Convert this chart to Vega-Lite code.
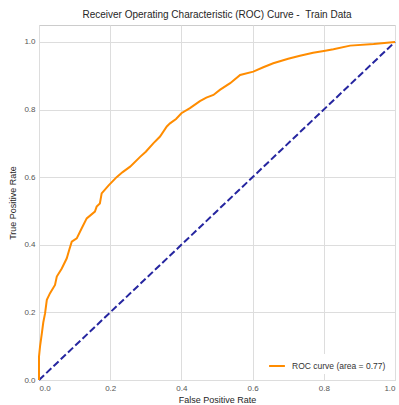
{
  "$schema": "https://vega.github.io/schema/vega-lite/v6.json",
  "width": 356,
  "height": 355,
  "autosize": {"type": "none"},
  "padding": {"left": 39, "top": 25, "right": 4, "bottom": 25},
  "background": "white",
  "title": {
    "text": "Receiver Operating Characteristic (ROC) Curve - \u00a0Train Data",
    "font": "Liberation Sans",
    "fontSize": 10,
    "fontWeight": "normal",
    "color": "#262626",
    "offset": 5
  },
  "config": {
    "view": {"stroke": "#cccccc", "strokeWidth": 1},
    "axis": {
      "labelFont": "Liberation Sans",
      "titleFont": "Liberation Sans",
      "labelFontSize": 8,
      "titleFontSize": 9,
      "labelColor": "#555555",
      "titleColor": "#262626",
      "titleFontWeight": "normal",
      "grid": true,
      "gridColor": "#dddddd",
      "gridWidth": 1,
      "domain": false,
      "ticks": false
    },
    "legend": {
      "labelFont": "Liberation Sans",
      "labelFontSize": 8.5,
      "labelColor": "#333333"
    }
  },
  "layer": [
    {
      "data": {"values": [{"fpr": 0, "tpr": 0}, {"fpr": 1, "tpr": 1}]},
      "mark": {"type": "line", "color": "#2626a0", "strokeWidth": 2, "strokeDash": [7, 3]},
      "encoding": {
        "x": {"field": "fpr", "type": "quantitative"},
        "y": {"field": "tpr", "type": "quantitative"}
      }
    },
    {
      "data": {"values": [
        {"fpr": 0, "tpr": 0},
        {"fpr": 0, "tpr": 0.069},
        {"fpr": 0.003, "tpr": 0.10},
        {"fpr": 0.008, "tpr": 0.138},
        {"fpr": 0.012, "tpr": 0.17},
        {"fpr": 0.017, "tpr": 0.197},
        {"fpr": 0.022, "tpr": 0.237},
        {"fpr": 0.031, "tpr": 0.257},
        {"fpr": 0.045, "tpr": 0.281},
        {"fpr": 0.05, "tpr": 0.306},
        {"fpr": 0.064, "tpr": 0.33},
        {"fpr": 0.078, "tpr": 0.36},
        {"fpr": 0.085, "tpr": 0.385},
        {"fpr": 0.092, "tpr": 0.409},
        {"fpr": 0.106, "tpr": 0.419},
        {"fpr": 0.12, "tpr": 0.449},
        {"fpr": 0.134, "tpr": 0.478},
        {"fpr": 0.157, "tpr": 0.498},
        {"fpr": 0.162, "tpr": 0.513},
        {"fpr": 0.171, "tpr": 0.522},
        {"fpr": 0.176, "tpr": 0.552},
        {"fpr": 0.195, "tpr": 0.575},
        {"fpr": 0.218, "tpr": 0.60},
        {"fpr": 0.235, "tpr": 0.615},
        {"fpr": 0.256, "tpr": 0.631},
        {"fpr": 0.284, "tpr": 0.66},
        {"fpr": 0.30, "tpr": 0.675},
        {"fpr": 0.321, "tpr": 0.70},
        {"fpr": 0.34, "tpr": 0.72},
        {"fpr": 0.359, "tpr": 0.75},
        {"fpr": 0.368, "tpr": 0.759},
        {"fpr": 0.385, "tpr": 0.772},
        {"fpr": 0.40, "tpr": 0.789},
        {"fpr": 0.424, "tpr": 0.804},
        {"fpr": 0.452, "tpr": 0.825},
        {"fpr": 0.47, "tpr": 0.835},
        {"fpr": 0.49, "tpr": 0.843},
        {"fpr": 0.508, "tpr": 0.858},
        {"fpr": 0.537, "tpr": 0.878},
        {"fpr": 0.565, "tpr": 0.902},
        {"fpr": 0.602, "tpr": 0.912},
        {"fpr": 0.63, "tpr": 0.925},
        {"fpr": 0.658, "tpr": 0.937},
        {"fpr": 0.70, "tpr": 0.95},
        {"fpr": 0.733, "tpr": 0.959},
        {"fpr": 0.77, "tpr": 0.968},
        {"fpr": 0.80, "tpr": 0.973},
        {"fpr": 0.827, "tpr": 0.978},
        {"fpr": 0.874, "tpr": 0.989},
        {"fpr": 0.94, "tpr": 0.994},
        {"fpr": 1.0, "tpr": 1.0}
      ]},
      "mark": {"type": "line", "strokeWidth": 2, "interpolate": "linear"},
      "encoding": {
        "x": {
          "field": "fpr", "type": "quantitative",
          "scale": {"domain": [0, 1], "nice": false},
          "axis": {"title": "False Positive Rate", "values": [0, 0.2, 0.4, 0.6, 0.8, 1.0], "format": ".1f", "labelPadding": 4, "titlePadding": 3}
        },
        "y": {
          "field": "tpr", "type": "quantitative",
          "scale": {"domain": [0, 1.05], "nice": false},
          "axis": {"title": "True Positive Rate", "values": [0, 0.2, 0.4, 0.6, 0.8, 1.0], "format": ".1f", "labelPadding": 4, "titlePadding": 6}
        },
        "color": {
          "datum": "ROC curve (area = 0.77)",
          "type": "nominal",
          "scale": {"range": ["#ff8c00"]},
          "legend": {
            "title": null,
            "orient": "bottom-right",
            "offset": 6,
            "symbolType": "stroke",
            "symbolStrokeWidth": 2,
            "symbolSize": 250,
            "labelOffset": 6,
            "fillColor": "white",
            "padding": 3
          }
        }
      }
    }
  ]
}
